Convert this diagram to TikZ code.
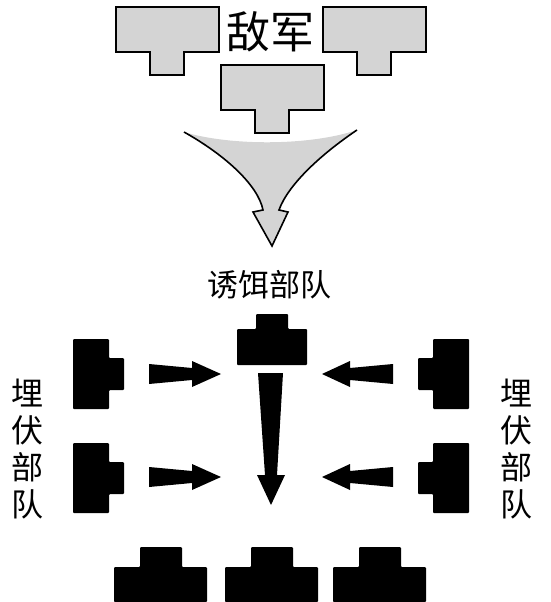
\documentclass[tikz,border=0pt]{standalone}
\usepackage{fontspec}
\newfontfamily\cjk{Noto Sans CJK SC}

\tikzset{
  enemy/.style={fill=black!17, draw=black, line width=1.6pt, line join=miter},
  unit/.style={fill=black, rounded corners=1pt},
  cntext/.style={inner sep=0pt, text=black},
}

\begin{document}
\begin{tikzpicture}[x=1pt,y=-1pt]
  \useasboundingbox (0,0) rectangle (550,602);
  % enemy troops
  \foreach \x/\y in {116/7, 323/7, 221/65}
    \draw[enemy] (\x,\y) -- ++(103,0) -- ++(0,45) -- ++(-35,0) -- ++(0,23)
      -- ++(-34,0) -- ++(0,-23) -- ++(-34,0) -- cycle;
  \node[cntext, font=\cjk\fontsize{44}{44}\selectfont] (enemy) at (270,32) {敌军};
  % funnel arrow
  \fill[black!17] (184,132) .. controls (230,146) and (310,146) .. (357,130)
    .. controls (320,155) and (288,185) .. (279,210) -- (288,212) -- (272,246)
    -- (253,212) -- (263,210) .. controls (258,185) and (225,155) .. (184,132) -- cycle;
  \draw[line width=1.6pt] (357,130) .. controls (320,155) and (288,185) .. (279,210)
    -- (288,212) -- (272,246) -- (253,212) -- (263,210)
    .. controls (258,185) and (225,155) .. (184,132);
  \node[cntext, font=\cjk\fontsize{31}{31}\selectfont] (bait) at (269,285) {诱饵部队};
  % bait unit and its retreat
  \fill[unit] (256,314) -- (288,314) -- (288,329) -- (307,329) -- (307,365)
    -- (237,365) -- (237,329) -- (256,329) -- cycle;
  \fill (258,373) -- (283,373) -- (277,475) -- (285,475) -- (271,505)
    -- (257,475) -- (265,475) -- cycle;
  % ambush units, both flanks
  \foreach \y in {339,443} {
    \fill[unit] (73,\y) -- ++(36,0) -- ++(0,19) -- ++(15,0) -- ++(0,32)
      -- ++(-15,0) -- ++(0,19) -- ++(-36,0) -- cycle;
    \fill[unit] (469,\y) -- ++(-36,0) -- ++(0,19) -- ++(-15,0) -- ++(0,32)
      -- ++(15,0) -- ++(0,19) -- ++(36,0) -- cycle;
  }
  \foreach \y in {374,477} {
    \fill (149,\y-10) -- (192,\y-6) -- (192,\y-13) -- (221,\y)
      -- (192,\y+13) -- (192,\y+6) -- (149,\y+10) -- cycle;
    \fill (393,\y-10) -- (350,\y-6) -- (350,\y-13) -- (322,\y)
      -- (350,\y+13) -- (350,\y+6) -- (393,\y+10) -- cycle;
  }
  \node[cntext, align=center, font=\cjk\fontsize{32}{37}\selectfont] (ambushL) at (28,449) {埋\\伏\\部\\队};
  \node[cntext, align=center, font=\cjk\fontsize{32}{37}\selectfont] (ambushR) at (516,449) {埋\\伏\\部\\队};
  % units at the bottom
  \foreach \x in {114,225,333}
    \fill[unit] (\x+26,547) -- ++(42,0) -- ++(0,20) -- ++(25,0) -- (\x+93,602)
      -- (\x,602) -- (\x,567) -- (\x+26,567) -- cycle;
\end{tikzpicture}
\end{document}
